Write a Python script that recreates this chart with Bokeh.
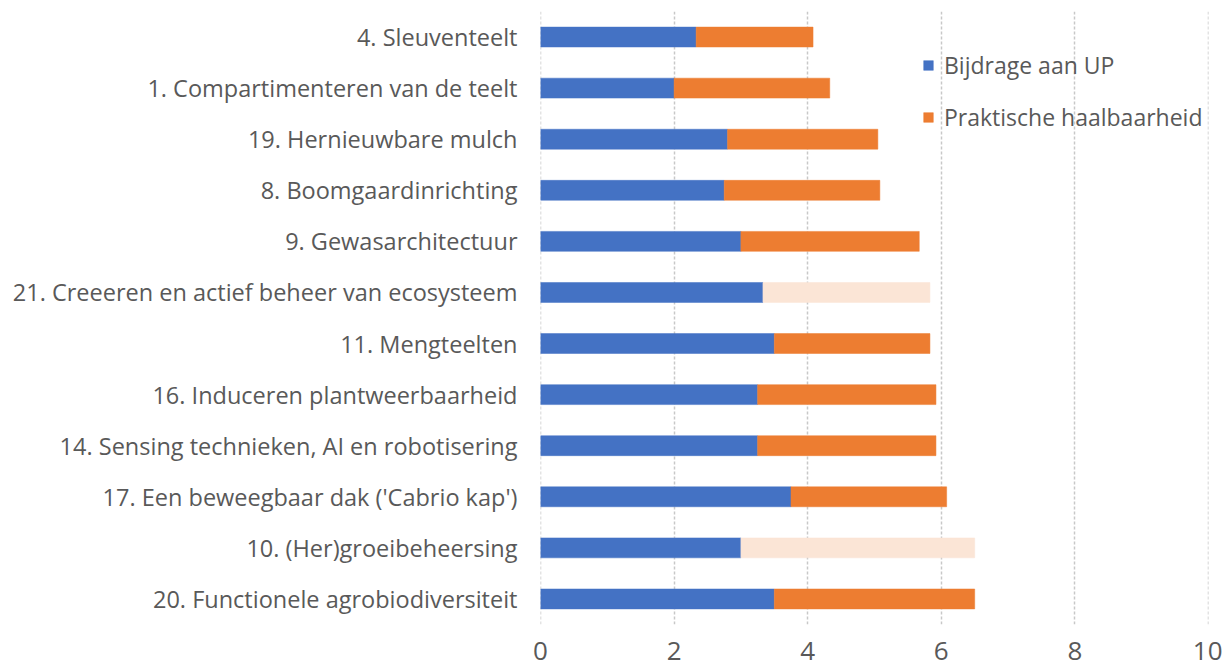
from bokeh.plotting import figure
from bokeh.models import ColumnDataSource, FactorRange, Range1d, Legend, LegendItem, FixedTicker, Span
from bokeh.embed import file_html
from bokeh.resources import INLINE

# categories, top to bottom as shown
categories = [
    "4. Sleuventeelt",
    "1. Compartimenteren van de teelt",
    "19. Hernieuwbare mulch",
    "8. Boomgaardinrichting",
    "9. Gewasarchitectuur",
    "21. Creeeren en actief beheer van ecosysteem",
    "11. Mengteelten",
    "16. Induceren plantweerbaarheid",
    "14. Sensing technieken, AI en robotisering",
    "17. Een beweegbaar dak ('Cabrio kap')",
    "10. (Her)groeibeheersing",
    "20. Functionele agrobiodiversiteit",
]
bijdrage = [2.33, 2.0, 2.8, 2.75, 3.0, 3.33, 3.5, 3.25, 3.25, 3.75, 3.0, 3.5]
haalbaarheid = [1.75, 2.33, 2.25, 2.33, 2.67, 2.5, 2.33, 2.67, 2.67, 2.33, 3.5, 3.0]
highlighted = [False, False, False, False, False, True, False, False, False, False, True, False]
series_names = ["Bijdrage aan UP", "Praktische haalbaarheid"]
x_ticks = [0, 2, 4, 6, 8, 10]

BLUE = "#4472C4"
ORANGE = "#ED7D31"
LIGHT = "#FBE5D6"
TEXT = "#595959"
GRID = "#C8C8C8"
FONT = "Open Sans"

totals = [b + h for b, h in zip(bijdrage, haalbaarheid)]
src = ColumnDataSource(dict(
    cat=categories,
    b=bijdrage,
    tot=totals,
    zero=[0] * len(categories),
    ocolor=[LIGHT if f else ORANGE for f in highlighted],
))

p = figure(
    width=1222, height=671,
    y_range=FactorRange(factors=list(reversed(categories)), range_padding=0),
    x_range=Range1d(0, 10),
    output_backend="svg", toolbar_location=None,
    min_border_left=540, min_border_right=14, min_border_top=11, min_border_bottom=47,
)
p.outline_line_color = None
p.background_fill_color = "white"

# grid
p.ygrid.grid_line_color = None
p.xgrid.grid_line_color = GRID
p.xgrid.grid_line_dash = "3 2"
p.xgrid.grid_line_width = 1.5
p.xaxis.ticker = FixedTicker(ticks=x_ticks)
for loc in (x_ticks[0], x_ticks[-1]):
    p.add_layout(Span(location=loc, dimension="height", line_color=GRID,
                      line_dash="3 2", line_width=1.5, level="underlay"))

r1 = p.hbar(y="cat", left="zero", right="b", height=0.39, source=src,
            fill_color=BLUE, line_color=BLUE, line_width=0.5)
r2 = p.hbar(y="cat", left="b", right="tot", height=0.39, source=src,
            fill_color="ocolor", line_color="ocolor", line_width=0.5)

for ax in (p.xaxis[0], p.yaxis[0]):
    ax.axis_line_color = None
    ax.major_tick_line_color = None
    ax.minor_tick_line_color = None
    ax.major_tick_out = 0
    ax.major_label_text_color = TEXT
    ax.major_label_text_font = FONT
p.yaxis.major_label_text_font_size = "23.5px"
p.xaxis.major_label_text_font_size = "26px"
p.xaxis.major_label_standoff = 17
p.yaxis.major_label_standoff = 23

legend = Legend(items=[LegendItem(label=series_names[0], renderers=[r1], index=0),
                       LegendItem(label=series_names[1], renderers=[r2], index=0)],
                location=(382, 491))
legend.background_fill_alpha = 0
legend.border_line_alpha = 0
legend.padding = 0
legend.margin = 0
legend.spacing = 20
legend.glyph_width = 12
legend.glyph_height = 12
legend.label_height = 22
legend.label_standoff = 10
legend.label_text_font = FONT
legend.label_text_font_size = "23px"
legend.label_text_color = TEXT
p.add_layout(legend)

open("out.html", "w").write(file_html(p, INLINE))
